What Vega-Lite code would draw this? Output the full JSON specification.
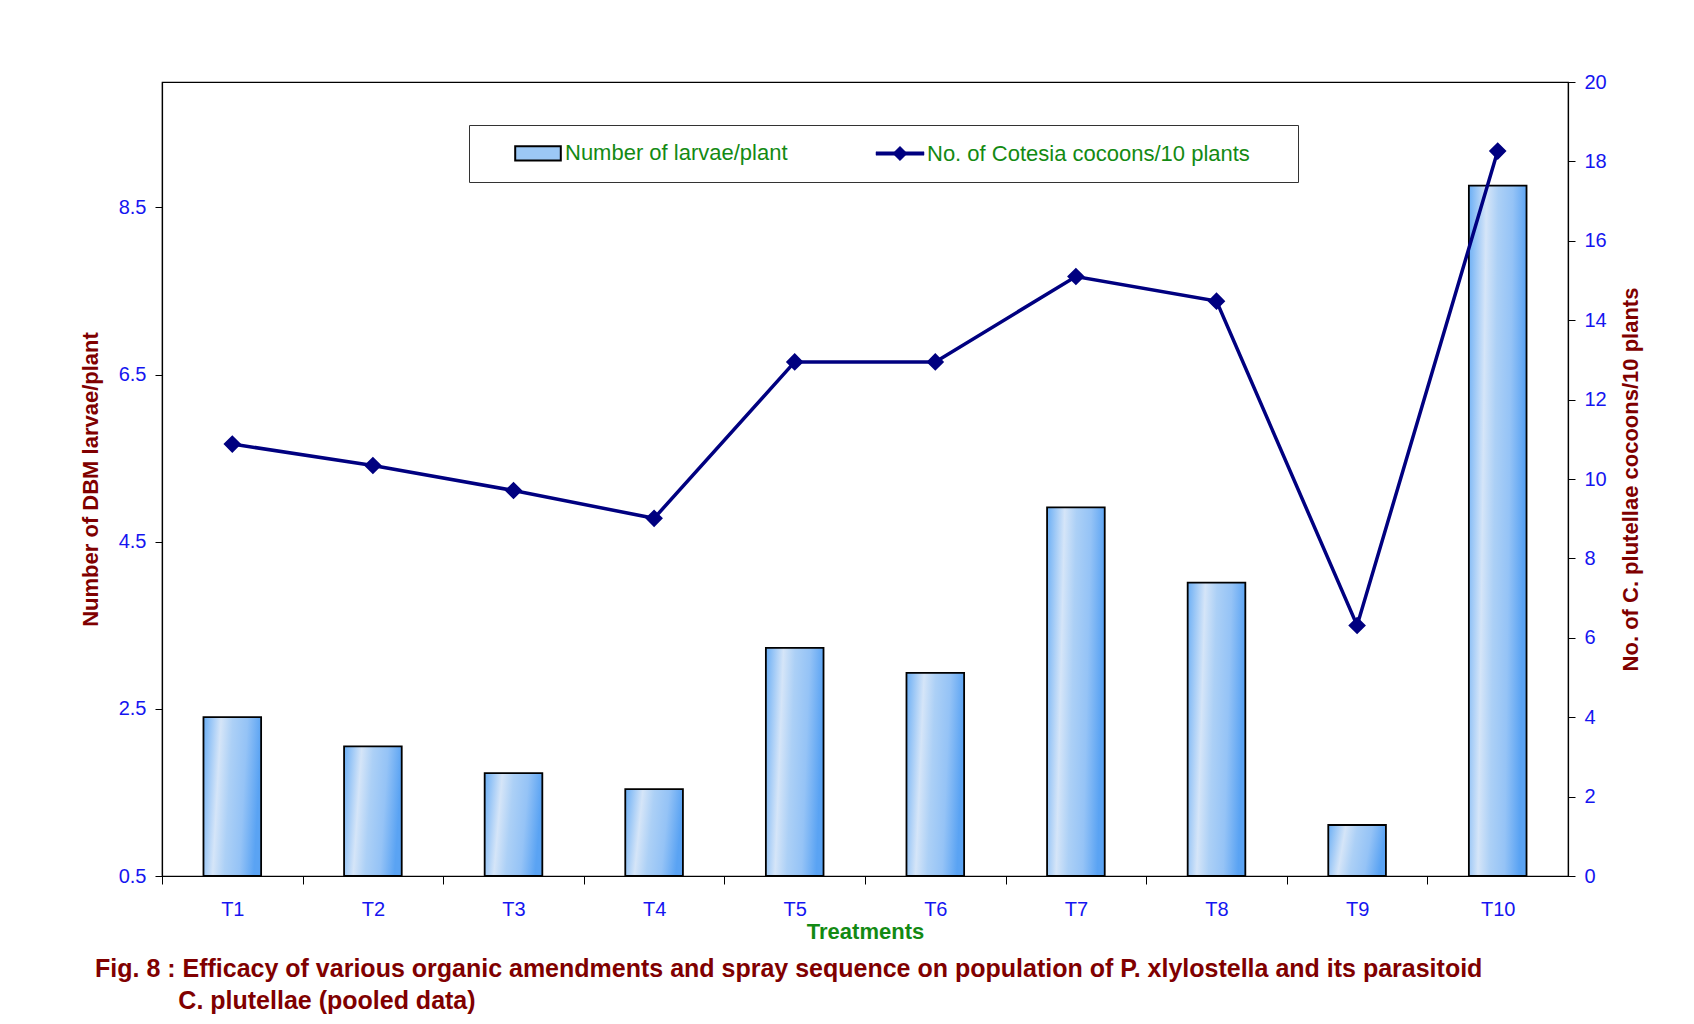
{
  "$schema": "https://vega.github.io/schema/vega-lite/v6.json",
  "autosize": {"type": "none"},
  "width": 1406,
  "height": 794,
  "padding": {"left": 162, "top": 82, "right": 126, "bottom": 148},
  "background": "white",
  "config": {
    "font": "Liberation Sans",
    "view": {"stroke": "#000000", "strokeWidth": 1.2},
    "axis": {"grid": false, "domainColor": "#000000", "tickColor": "#000000", "labelColor": "#1515f0", "labelFont": "Liberation Sans", "labelFontSize": 20, "titleFont": "Liberation Sans", "titleFontWeight": "bold", "titleFontSize": 22, "titleColor": "#7f0000", "domainWidth": 1.2}
  },
  "title": {
    "text": ["Fig. 8 : Efficacy of various organic amendments and spray sequence on population of P. xlylostella and its parasitoid", "\u200b\u00a0\u00a0\u00a0\u00a0\u00a0\u00a0\u00a0\u00a0\u00a0\u00a0\u00a0\u00a0C. plutellae (pooled data)"],
    "orient": "bottom",
    "anchor": "start",
    "frame": "group",
    "dx": -67,
    "offset": 15,
    "font": "Liberation Sans",
    "fontSize": 25,
    "fontWeight": "bold",
    "color": "#800000",
    "lineHeight": 32
  },
  "data": {
    "values": [
      {"t": "T1", "larvae": 2.40, "cocoons": 10.88},
      {"t": "T2", "larvae": 2.05, "cocoons": 10.34},
      {"t": "T3", "larvae": 1.73, "cocoons": 9.71},
      {"t": "T4", "larvae": 1.54, "cocoons": 9.01},
      {"t": "T5", "larvae": 3.23, "cocoons": 12.95},
      {"t": "T6", "larvae": 2.93, "cocoons": 12.95},
      {"t": "T7", "larvae": 4.91, "cocoons": 15.10},
      {"t": "T8", "larvae": 4.01, "cocoons": 14.48},
      {"t": "T9", "larvae": 1.11, "cocoons": 6.31},
      {"t": "T10", "larvae": 8.76, "cocoons": 18.26}
    ]
  },
  "encoding": {
    "x": {
      "field": "t", "type": "ordinal", "sort": null,
      "scale": {"paddingInner": 0.59, "paddingOuter": 0.295},
      "axis": {"title": "Treatments", "titleColor": "#138a13", "titleFontSize": 22, "titlePadding": 2, "labelAngle": 0, "tickOffset": -70.3, "labelOffset": 70.3, "tickSize": 8, "labelPadding": 15}
    },
    "stroke": {
      "field": "series", "type": "nominal",
      "scale": {"domain": ["Number of larvae/plant", "No. of Cotesia cocoons/10 plants"], "range": ["#000000", "#000080"]},
      "legend": {
        "title": null,
        "orient": "none",
        "legendX": 307,
        "legendY": 43,
        "direction": "horizontal",
        "strokeColor": "#333333",
        "fillColor": "#ffffff",
        "padding": 17,
        "columnPadding": 60,
        "labelFont": "Liberation Sans",
        "labelFontSize": 22,
        "labelLimit": 500,
        "labelColor": "#138a13",
        "labelOffset": 16,
        "symbolOffset": 41,
        "symbolSize": 2304,
        "symbolStrokeWidth": 2,
        "labelExpr": "datum.label === 'No. of Cotesia cocoons/10 plants' ? datum.label + '\u00a0\u00a0\u00a0\u00a0\u00a0\u200b' : datum.label",
        "encode": {
          "symbols": {
            "update": {
              "shape": {"signal": "datum.value === 'Number of larvae/plant' ? 'M-0.95,-0.3H0.95V0.3H-0.95Z' : 'M-1,-0.07H1V0.07H-1Z M0,-0.3L0.3,0L0,0.3L-0.3,0Z'"},
              "fill": {"signal": "datum.value === 'Number of larvae/plant' ? '#9cc8f5' : '#000080'"},
              "strokeWidth": {"signal": "datum.value === 'Number of larvae/plant' ? 2 : 0.5"},
              "strokeOpacity": {"value": 1},
              "opacity": {"value": 1},
              "fillOpacity": {"value": 1}
            }
          }
        }
      }
    }
  },
  "layer": [
    {
      "transform": [{"calculate": "'Number of larvae/plant'", "as": "series"}],
      "mark": {
        "type": "bar",
        "strokeWidth": 1.8,
        "clip": true,
        "fill": {"gradient": "linear", "x1": 0, "y1": 0, "x2": 1, "y2": 0.15, "stops": [
          {"offset": 0, "color": "#6aaef5"},
          {"offset": 0.3, "color": "#d5e5f8"},
          {"offset": 0.5, "color": "#acd0f6"},
          {"offset": 0.75, "color": "#95c3f6"},
          {"offset": 1, "color": "#5aa3f3"}
        ]}
      },
      "encoding": {
        "y": {
          "field": "larvae", "type": "quantitative",
          "scale": {"domain": [0.5, 10], "zero": false, "nice": false},
          "axis": {"title": "Number of DBM larvae/plant", "values": [0.5, 2.5, 4.5, 6.5, 8.5], "format": ".1f", "tickSize": 7, "labelPadding": 9, "titlePadding": 16}
        },
        "y2": {"datum": 0.5}
      }
    },
    {
      "transform": [{"calculate": "'No. of Cotesia cocoons/10 plants'", "as": "series"}],
      "mark": {"type": "line", "strokeWidth": 3.5, "point": {"shape": "diamond", "size": 220, "filled": true, "color": "#000080"}},
      "encoding": {
        "y": {
          "field": "cocoons", "type": "quantitative",
          "scale": {"domain": [0, 20], "nice": false},
          "axis": {"orient": "right", "title": "No. of C. plutellae cocoons/10 plants", "titleAngle": 270, "values": [0, 2, 4, 6, 8, 10, 12, 14, 16, 18, 20], "tickSize": 7, "labelPadding": 9, "titlePadding": 36}
        }
      }
    }
  ],
  "resolve": {"scale": {"y": "independent"}}
}
